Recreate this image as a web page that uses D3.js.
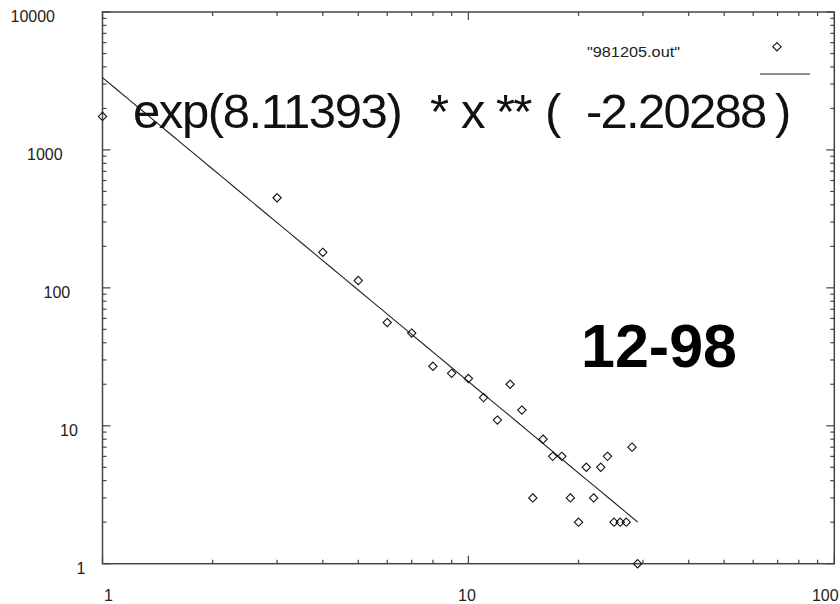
<!DOCTYPE html>
<html>
<head>
<meta charset="utf-8">
<script src="https://cdn.jsdelivr.net/npm/d3@7/dist/d3.min.js"></script>
<style>
  html, body { margin: 0; padding: 0; background: #fff; }
  svg { display: block; }
  text { font-family: "Liberation Sans", Arial, Helvetica, sans-serif; }
</style>
</head>
<body>
<svg id="chart" width="840" height="604"></svg>
<script>
// Counts per bin read from 981205.out (x = bin, y = count; bin 2 is empty)
const binX = [1, 3, 4, 5, 6, 7, 8, 9, 10, 11, 12, 13, 14, 15, 16, 17, 18, 19, 20, 21, 22, 23, 24, 25, 26, 27, 28, 29];
const countY = [1750, 450, 181, 113, 56, 47, 27, 24, 22, 16, 11, 20, 13, 3, 8, 6, 6, 3, 2, 5, 3, 5, 6, 2, 2, 2, 7, 1];

// Power-law fit: y = exp(a) * x ** b
const fitA = 8.11393;
const fitB = -2.20288;

const xTickValues = [1, 10, 100];
const xTickLabels = ["1", "10", "100"];
const yTickValues = [1, 10, 100, 1000, 10000];
const yTickLabels = ["1", "10", "100", "1000", "10000"];

const seriesName = '"981205.out"';
// fit title "exp(8.11393)  * x ** (  -2.20288 )", split into its tokens
const fitTokens = ["exp(8.11393)", "*", "x", "**", "(", "-2.20288", ")"];
const stamp = "12-98";

const svg = d3.select("#chart");
const plotLeft = 102.5, plotRight = 834.3, plotTop = 12, plotBottom = 563.7;

const x = d3.scaleLog().domain([1, 100]).range([plotLeft, plotRight]);
const y = d3.scaleLog().domain([1, 10000]).range([plotBottom, plotTop]);

const frameColor = "#444";

// minor ticks at 2..9 in every decade
function minorTicks(lo, hi) {
  const out = [];
  for (let d = lo; d < hi; d *= 10) for (let k = 2; k <= 9; k++) out.push(d * k);
  return out;
}
const xMinor = minorTicks(1, 100);
const yMinor = minorTicks(1, 10000);

const ticks = svg.append("g").attr("stroke", frameColor).attr("stroke-width", 1.2);
// bottom & top
[[plotBottom, -1], [plotTop, 1]].forEach(([yy, dir]) => {
  ticks.selectAll(null).data(xTickValues).enter().append("line")
    .attr("x1", d => x(d)).attr("x2", d => x(d))
    .attr("y1", yy).attr("y2", yy + dir * 8);
  ticks.selectAll(null).data(xMinor).enter().append("line")
    .attr("x1", d => x(d)).attr("x2", d => x(d))
    .attr("y1", yy).attr("y2", yy + dir * 4);
});
// left & right
[[plotLeft, 1], [plotRight, -1]].forEach(([xx, dir]) => {
  ticks.selectAll(null).data(yTickValues).enter().append("line")
    .attr("y1", d => y(d)).attr("y2", d => y(d))
    .attr("x1", xx).attr("x2", xx + dir * 8);
  ticks.selectAll(null).data(yMinor).enter().append("line")
    .attr("y1", d => y(d)).attr("y2", d => y(d))
    .attr("x1", xx).attr("x2", xx + dir * 4);
});

// frame
svg.append("rect")
  .attr("x", plotLeft).attr("y", plotTop)
  .attr("width", plotRight - plotLeft).attr("height", plotBottom - plotTop)
  .attr("fill", "none").attr("stroke", frameColor).attr("stroke-width", 1.5);

// tick labels
const labelG = svg.append("g").attr("fill", "#222").attr("font-size", 16);
labelG.selectAll(null).data(yTickValues).enter().append("text")
  .attr("x", (d, i) => 55 + 7.6 * (5 - yTickLabels[i].length))
  .attr("y", d => y(d) + 10)
  .attr("text-anchor", "end")
  .text((d, i) => yTickLabels[i]);
labelG.selectAll(null).data(xTickValues).enter().append("text")
  .attr("x", (d, i) => x(d) + 6 - 7.5 * (xTickLabels[i].length - 1))
  .attr("y", plotBottom + 37)
  .attr("text-anchor", "middle")
  .text((d, i) => xTickLabels[i]);

// fit line over the data range
const xMax = d3.max(binX);
const fitPts = d3.range(0, 41).map(i => {
  const xv = Math.exp(Math.log(xMax) * i / 40);
  return [xv, Math.exp(fitA) * Math.pow(xv, fitB)];
});
svg.append("path")
  .datum(fitPts)
  .attr("fill", "none").attr("stroke", "#222").attr("stroke-width", 1.1)
  .attr("d", d3.line().x(d => x(d[0])).y(d => y(d[1])));

// diamond markers
const diamond = d3.symbol().type(d3.symbolDiamond2).size(44);
svg.append("g").selectAll("path").data(binX).enter().append("path")
  .attr("transform", (d, i) => `translate(${x(d)},${y(countY[i])})`)
  .attr("d", diamond)
  .attr("fill", "none").attr("stroke", "#111").attr("stroke-width", 1.1);

// legend
svg.append("text")
  .attr("x", 587).attr("y", 57)
  .attr("font-size", 15.5).attr("fill", "#222")
  .attr("textLength", 93).attr("lengthAdjust", "spacingAndGlyphs")
  .text(seriesName);
svg.append("path")
  .attr("transform", "translate(777,46.7)")
  .attr("d", diamond)
  .attr("fill", "none").attr("stroke", "#111").attr("stroke-width", 1.1);
svg.append("line")
  .attr("x1", 760).attr("x2", 810).attr("y1", 74).attr("y2", 74)
  .attr("stroke", "#222").attr("stroke-width", 1.1);

// fit formula, one tspan per token
const tokenX = [133, 430, 461, 496, 545, 586, 775];
const tokenSpacing = [-1.4, 0, 0, -1.75, 0, -1.75, 0];
const formula = svg.append("text")
  .attr("y", 128)
  .attr("font-size", 49).attr("fill", "#111");
formula.selectAll("tspan").data(fitTokens).enter().append("tspan")
  .attr("x", (d, i) => tokenX[i])
  .attr("letter-spacing", (d, i) => tokenSpacing[i])
  .text(d => d);

// date stamp
svg.append("text")
  .attr("x", 581).attr("y", 367)
  .attr("font-size", 61).attr("font-weight", "bold").attr("fill", "#000")
  .text(stamp);
</script>
</body>
</html>
